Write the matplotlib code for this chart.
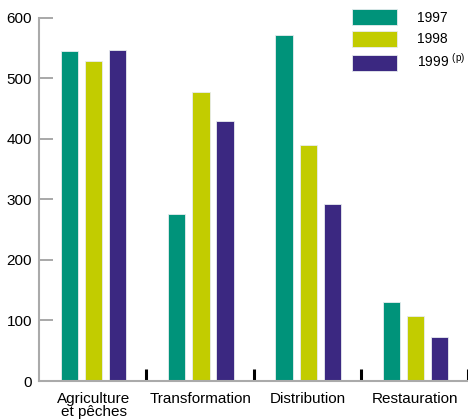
import numpy as np
import matplotlib
matplotlib.use("Agg")
from matplotlib import pyplot as plt

plt.rcParams['font.family'] = ['Liberation Sans', 'DejaVu Sans']
plt.rcParams['mathtext.fontset'] = 'custom'
plt.rcParams['mathtext.rm'] = 'Liberation Sans'

#Data
categories = ['Agriculture\net pêches', 'Transformation', 'Distribution', 'Restauration']
v1997 = [545, 276, 571, 130]
v1998 = [528, 477, 389, 107]
v1999 = [546, 430, 292, 72]
years = ['1997', '1998', '1999 $^{\\rm (p)}$']
colors = ['#00937a', '#c2cc00', '#3b2881']
yticks = [0, 100, 200, 300, 400, 500, 600]

fig = plt.figure(figsize=(4.68, 4.19), dpi=100)
ax = fig.add_axes([39/468, 1-381/419, 1-39/468, (381-17.7)/419])

x = np.arange(len(categories)) + 0.51
w = 0.16
step = 0.225
for i, vals in enumerate([v1997, v1998, v1999]):
    ax.bar(x + (i-1)*step, vals, w, color=colors[i], edgecolor='#e8ecef',
           linewidth=0.6, label=years[i])

ax.set_xlim(0, 4)
ax.set_ylim(0, 600)
ax.set_yticks(yticks)
ax.tick_params(axis='y', direction='in', length=10, width=1.2, color='#999999',
               labelsize=11, pad=5)

#separator ticks between groups + centred labels
ax.set_xticks([1, 2, 3, 4])
ax.set_xticklabels([])
ax.tick_params(axis='x', which='major', direction='in', length=9, width=2.2, color='black')
ax.set_xticks(x, minor=True)
ax.set_xticklabels(categories, minor=True, fontsize=11, linespacing=0.88)
ax.tick_params(axis='x', which='minor', length=0, pad=8)

for s in ['top', 'right']:
    ax.spines[s].set_visible(False)
for s in ['left', 'bottom']:
    ax.spines[s].set_color('#aaaaaa')
    ax.spines[s].set_linewidth(1.5)

fs = 10*100/72
ax.legend(loc='upper left', bbox_to_anchor=(352/468, 1-9/419), bbox_transform=fig.transFigure,
          frameon=False, fontsize=10, borderpad=0, borderaxespad=0,
          handlelength=45/fs, handleheight=19.5/fs, labelspacing=0.4, handletextpad=1.45)

plt.savefig('out.png', dpi=100)
